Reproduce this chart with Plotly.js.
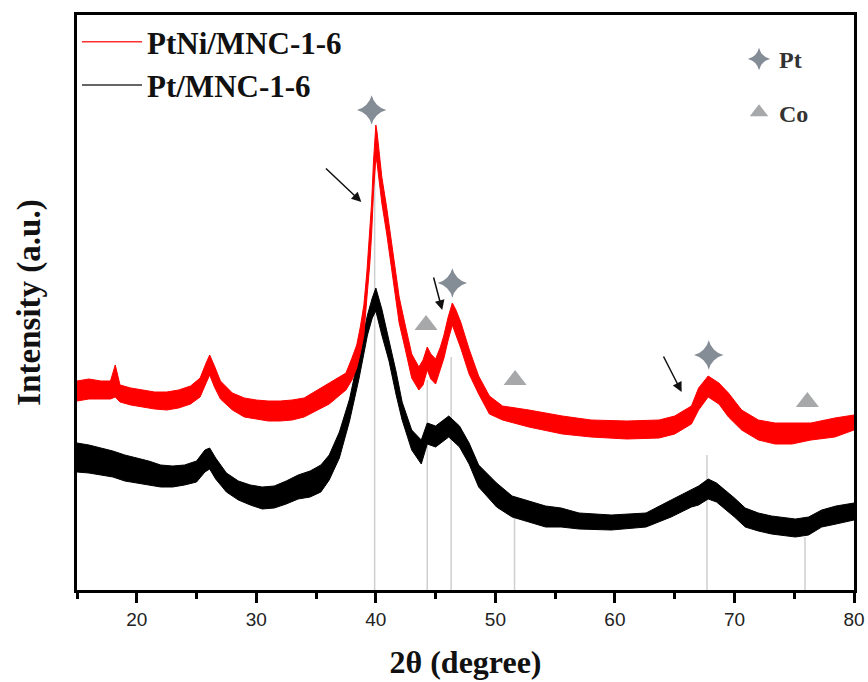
<!DOCTYPE html>
<html>
<head>
<meta charset="utf-8">
<script src="https://cdn.plot.ly/plotly-3.0.1.min.js"></script>
<style>html,body{margin:0;padding:0;background:#fff;}#chart{width:868px;height:682px;}</style>
</head>
<body>
<div id="chart"></div>
<script>
// ---- data (2θ in degrees, intensity in a.u.) ----
// PtNi/MNC-1-6 : noisy band, upper and lower edge of the trace
const thetaPtNi = [15.0,16.0,17.0,17.8,18.2,18.6,19.5,20.5,21.5,22.5,23.5,24.5,25.3,25.8,26.1,26.5,27.0,28.0,29.0,30.0,31.0,32.0,33.0,34.0,35.0,36.1,37.0,37.5,38.0,38.4,38.7,39.0,39.25,39.5,39.65,39.8,40.0,40.1,40.25,40.5,40.9,41.3,41.55,41.95,42.4,42.8,43.0,43.6,43.95,44.3,44.6,45.0,45.4,45.7,46.05,46.4,46.7,47.1,47.8,48.6,49.5,50.6,52.8,55.6,58.0,61.0,63.7,65.0,66.4,67.0,67.8,68.7,69.5,70.6,72.0,73.4,74.8,76.4,78.4,80.0];
const ptNiUpper = [209,211,209,209,225,205,202,200,198,198,200,204,212,227,235,224,209,197,192,190,189,189,190,192,199,207,213,217,232,245,263,285,318,358,388,428,465,458,443,413,383,348,323,293,268,248,236,223,230,243,236,231,243,255,273,287,280,268,241,214,194,184,180,174,170,169,170,174,184,202,214,207,197,180,170,167,167,167,172,175];
const ptNiLower = [189,191,191,191,193,188,185,183,181,180,182,186,193,207,215,203,191,180,173,171,169,169,170,173,179,186,195,200,210,222,237,255,292,327,357,397,432,427,412,387,357,322,297,267,244,224,212,200,205,220,211,206,220,232,250,265,255,242,216,196,176,170,163,156,153,151,152,156,166,180,193,186,173,160,150,146,146,150,153,160];

// Pt/MNC-1-6
const thetaPt = [15.0,16.0,17.0,18.0,19.0,20.0,21.0,22.0,23.0,24.0,25.0,25.7,26.1,26.6,27.5,28.5,29.5,30.5,31.5,32.5,33.5,34.5,35.4,36.1,36.95,37.8,38.6,39.3,39.7,40.0,40.5,41.1,41.7,42.2,43.0,43.8,44.3,45.0,46.1,47.0,47.8,48.6,50.1,51.4,52.8,54.2,55.5,57.0,59.7,62.6,64.7,66.4,67.0,67.8,68.5,69.2,70.0,70.9,72.0,73.1,75.1,76.2,77.3,78.5,80.0];
const ptUpper = [147,145,142,139,135,132,129,125,124,125,129,140,142,132,117,109,105,103,104,109,115,119,125,135,158,191,235,275,292,302,281,251,218,188,160,150,167,164,174,164,147,125,107,94,89,84,82,77,75,77,90,100,104,111,107,100,92,82,77,74,71,73,80,84,87];
const ptLower = [118,117,115,113,109,107,105,103,103,105,108,118,121,111,98,90,85,81,82,86,91,93,98,110,132,169,212,255,272,279,255,229,195,170,140,126,146,143,153,143,126,103,83,73,68,63,63,61,60,63,73,83,85,91,88,81,73,63,59,56,53,55,63,66,70];

// reference card lines (position, relative intensity)
const ptCardPos = [39.9, 46.3, 67.7];
const ptCardInt = [430, 233, 135];
const coCardPos = [44.3, 51.6, 75.9];
const coCardInt = [210, 82, 53];

// phase markers above the peaks
const ptMarkX = [39.65, 46.4, 67.85];
const ptMarkY = [480, 307, 235];
const coMarkX = [44.2, 51.65, 76.1];
const coMarkY = [265, 210, 188];

// arrows: [tail x, tail y, head x, head y]
const arrows = [[35.7, 423, 38.79, 388], [44.8, 314, 45.55, 280], [64.0, 235, 65.58, 198]];

const legendNames = ['PtNi/MNC-1-6', 'Pt/MNC-1-6'];
const xTickVals = [20, 30, 40, 50, 60, 70, 80];

// ---- build ----
function sticks(pos, h) {
  const x = [], y = [];
  pos.forEach((p, i) => { x.push(p, p, null); y.push(0, h[i], null); });
  return {x, y};
}
const ptS = sticks(ptCardPos, ptCardInt), coS = sticks(coCardPos, coCardInt);
const serif = 'Liberation Serif, Times New Roman, serif';

const traces = [
  {x: ptS.x, y: ptS.y, mode: 'lines', line: {color: '#cfcfcf', width: 1.5}, showlegend: false, hoverinfo: 'skip'},
  {x: coS.x, y: coS.y, mode: 'lines', line: {color: '#cfcfcf', width: 1.5}, showlegend: false, hoverinfo: 'skip'},
  {x: thetaPt, y: ptLower, mode: 'lines', line: {color: '#000', width: 1}, showlegend: false},
  {x: thetaPt, y: ptUpper, mode: 'lines', line: {color: '#000', width: 1}, fill: 'tonexty', fillcolor: '#000', showlegend: false},
  {x: thetaPtNi, y: ptNiLower, mode: 'lines', line: {color: '#ff0000', width: 1}, showlegend: false},
  {x: thetaPtNi, y: ptNiUpper, mode: 'lines', line: {color: '#ff0000', width: 1}, fill: 'tonexty', fillcolor: '#ff0000', showlegend: false},
  {x: [null], y: [null], mode: 'lines', name: legendNames[0], line: {color: '#ff3030', width: 1.5}, legend: 'legend'},
  {x: [null], y: [null], mode: 'lines', name: legendNames[1], line: {color: '#333', width: 1.5}, legend: 'legend'},
  {x: ptMarkX, y: ptMarkY, mode: 'markers', name: 'Pt', marker: {symbol: 'star-diamond', size: 21, color: '#848c95'}, legend: 'legend2', legendgroup: 'pt'},
  {x: coMarkX, y: coMarkY, mode: 'markers', name: 'Co', marker: {symbol: 'triangle-up', size: 20, color: '#a6a8aa'}, legend: 'legend2', legendgroup: 'co'}
];

const annotations = arrows.map(a => ({
  x: a[2], y: a[3], ax: a[0], ay: a[1], xref: 'x', yref: 'y', axref: 'x', ayref: 'y',
  showarrow: true, arrowhead: 2, arrowsize: 1.3, arrowwidth: 1.5, arrowcolor: '#111', text: ''
}));

const layout = {
  width: 868, height: 682,
  margin: {l: 77, r: 14, t: 15, b: 92},
  paper_bgcolor: '#fff', plot_bgcolor: '#fff',
  showlegend: true,
  xaxis: {
    range: [15, 80], tickvals: xTickVals, ticks: 'outside', ticklen: 10, tickwidth: 3, tickcolor: '#000',
    minor: {dtick: 5, ticks: 'outside', ticklen: 6, tickwidth: 3, tickcolor: '#000', showgrid: false},
    showline: true, linewidth: 3, linecolor: '#000', mirror: true, showgrid: false, zeroline: false,
    tickfont: {family: 'Liberation Sans, Arial, sans-serif', size: 19, color: '#222'},
    title: {text: '2θ (degree)', font: {family: serif, size: 32, color: '#111', weight: 'bold'}, standoff: 22}
  },
  yaxis: {
    range: [0, 575], showticklabels: false, ticks: '', showline: true, linewidth: 3, linecolor: '#000',
    mirror: true, showgrid: false, zeroline: false,
    title: {text: 'Intensity (a.u.)', font: {family: serif, size: 33, color: '#111', weight: 'bold'}, standoff: 24}
  },
  legend: {
    x: 0.0, y: 1.0, xanchor: 'left', yanchor: 'top', bgcolor: 'rgba(0,0,0,0)', itemwidth: 60,
    traceorder: 'normal',
    font: {family: serif, size: 31, color: '#111', weight: 'bold'}
  },
  legend2: {
    x: 0.852, y: 0.962, xanchor: 'left', yanchor: 'top', bgcolor: 'rgba(0,0,0,0)',
    traceorder: 'grouped', tracegroupgap: 19,
    font: {family: serif, size: 24, color: '#333', weight: 'bold'}
  },
  annotations: annotations
};

Plotly.newPlot('chart', traces, layout, {displayModeBar: false, staticPlot: true});
</script>
</body>
</html>
